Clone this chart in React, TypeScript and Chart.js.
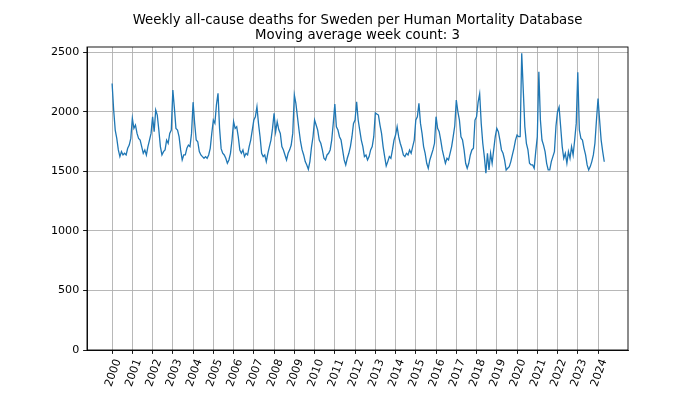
import { useEffect, useRef } from "react";
import { Chart, registerables } from "chart.js";

Chart.register(...registerables);

const titleLines = [
  "Weekly all-cause deaths for Sweden per Human Mortality Database",
  "Moving average week count: 3",
];

const firstYear = 2000;
const samplesPerYear = 13; // one value every 4 weeks
const yearTicks = [
  2000, 2001, 2002, 2003, 2004, 2005, 2006, 2007, 2008, 2009, 2010, 2011, 2012,
  2013, 2014, 2015, 2016, 2017, 2018, 2019, 2020, 2021, 2022, 2023, 2024,
];
const yTicks = [0, 500, 1000, 1500, 2000, 2500];

// 3-week moving average of weekly deaths, read every 4 weeks
const deaths2000to2004 = [
  2237, 2014, 1846, 1776, 1679, 1623, 1665, 1637, 1651, 1637, 1693, 1720, 1776,
  1944, 1860, 1888, 1818, 1776, 1762, 1707, 1651, 1679, 1637, 1707, 1762, 1818,
  1958, 1832, 2014, 1972, 1846, 1707, 1637, 1665, 1679, 1762, 1735, 1818, 1846,
  2181, 2028, 1860, 1846, 1790, 1679, 1595, 1637, 1637, 1693, 1720, 1707, 1818,
  2080, 1902, 1762, 1748, 1665, 1637, 1623, 1609, 1623, 1609, 1637, 1693, 1818,
];
const deaths2005to2009 = [
  1930, 1902, 2060, 2155, 1860, 1690, 1651, 1637, 1609, 1567, 1595, 1651, 1762,
  1916, 1860, 1874, 1790, 1679, 1651, 1679, 1623, 1651, 1637, 1707, 1762, 1846,
  1930, 1958, 2042, 1900, 1790, 1651, 1623, 1637, 1581, 1651, 1707, 1762, 1860,
  1986, 1830, 1916, 1850, 1818, 1707, 1679, 1637, 1595, 1651, 1680, 1720, 1820,
  2140, 2070, 1958, 1846, 1748, 1679, 1637, 1581, 1553, 1517, 1581, 1700, 1790,
];
const deaths2010to2014 = [
  1930, 1888, 1846, 1762, 1735, 1679, 1609, 1595, 1637, 1651, 1679, 1762, 1902,
  2064, 1874, 1846, 1790, 1762, 1679, 1595, 1553, 1609, 1651, 1707, 1790, 1902,
  1930, 2084, 1930, 1846, 1762, 1707, 1623, 1637, 1595, 1623, 1679, 1707, 1790,
  1990, 1980, 1972, 1888, 1818, 1707, 1623, 1545, 1581, 1623, 1609, 1679, 1762,
  1804, 1874, 1790, 1735, 1693, 1637, 1623, 1651, 1637, 1679, 1651, 1707, 1762,
];
const deaths2015to2019 = [
  1930, 1958, 2070, 1902, 1818, 1707, 1651, 1567, 1525, 1595, 1637, 1679, 1735,
  1958, 1860, 1832, 1762, 1679, 1623, 1567, 1609, 1595, 1651, 1707, 1790, 1880,
  2098, 2000, 1930, 1790, 1762, 1679, 1567, 1525, 1567, 1637, 1679, 1693, 1930,
  1958, 2080, 2150, 1902, 1735, 1623, 1483, 1651, 1511, 1651, 1567, 1679, 1790,
  1860, 1832, 1762, 1679, 1651, 1595, 1511, 1525, 1539, 1581, 1637, 1693, 1762,
];
const deaths2020to2024 = [
  1804, 1790, 1790, 2490, 2180, 1874, 1735, 1679, 1567, 1553, 1553, 1525, 1665,
  1790, 2335, 1930, 1762, 1720, 1665, 1567, 1511, 1511, 1581, 1623, 1665, 1880,
  2000, 2040, 1874, 1707, 1609, 1651, 1567, 1665, 1609, 1707, 1637, 1762, 1902,
  2330, 1846, 1776, 1762, 1693, 1637, 1553, 1511, 1539, 1581, 1637, 1735, 1930,
  2110, 1930, 1762, 1665, 1580,
];

const allDeaths = [
  ...deaths2000to2004,
  ...deaths2005to2009,
  ...deaths2010to2014,
  ...deaths2015to2019,
  ...deaths2020to2024,
];

const FONT = "'DejaVu Sans', 'Liberation Sans', sans-serif";

export default function App() {
  const canvasRef = useRef<HTMLCanvasElement | null>(null);

  useEffect(() => {
    const canvas = canvasRef.current;
    if (!canvas) return;

    const points = allDeaths.map((v, i) => ({
      x: firstYear + i / samplesPerYear,
      y: v,
    }));

    const framePlugin = {
      id: "frameAndTitle",
      afterDatasetsDraw(chart: any) {
        const { ctx, chartArea } = chart;
        ctx.save();
        ctx.strokeStyle = "#000";
        ctx.lineWidth = 0.9;
        ctx.strokeRect(
          chartArea.left,
          chartArea.top,
          chartArea.right - chartArea.left,
          chartArea.bottom - chartArea.top
        );
        ctx.restore();
      },
      afterDraw(chart: any) {
        const { ctx, chartArea } = chart;
        ctx.save();
        ctx.fillStyle = "#000";
        ctx.font = `13.3px ${FONT}`;
        ctx.textAlign = "center";
        ctx.textBaseline = "middle";
        const cx = (chartArea.left + chartArea.right) / 2;
        ctx.fillText(titleLines[0], cx, 20.5);
        ctx.fillText(titleLines[1], cx, 36);
        ctx.restore();
      },
    };

    const chart = new Chart(canvas, {
      type: "line",
      data: {
        datasets: [
          {
            data: points,
            borderColor: "#1f77b4",
            borderWidth: 1.3,
            pointRadius: 0,
            tension: 0,
            fill: false,
          },
        ],
      },
      options: {
        responsive: false,
        animation: false,
        parsing: true,
        layout: { padding: { top: 47, right: 72, bottom: 0, left: 0 } },
        plugins: {
          legend: { display: false },
          title: { display: false },
          tooltip: { enabled: false },
        },
        scales: {
          x: {
            type: "linear",
            min: 1998.76,
            max: 2025.48,
            afterFit: (scale: any) => {
              scale.height = 44;
            },
            afterBuildTicks: (scale: any) => {
              scale.ticks = yearTicks.map((v) => ({ value: v }));
            },
            grid: {
              color: "#b0b0b0",
              lineWidth: 0.9,
              tickColor: "#000",
              tickLength: 3.9,
              tickWidth: 0.9,
            },
            border: { display: true, color: "#000", width: 0.9 },
            ticks: {
              color: "#000",
              font: { family: FONT, size: 11.1 },
              minRotation: 70,
              maxRotation: 70,
              autoSkip: false,
              padding: 3.5,
              labelOffset: 6,
              callback: (v: any) => String(v),
            },
          },
          y: {
            type: "linear",
            min: 0,
            max: 2543,
            afterFit: (scale: any) => {
              scale.width = 87;
            },
            afterBuildTicks: (scale: any) => {
              scale.ticks = yTicks.map((v) => ({ value: v }));
            },
            grid: {
              color: "#b0b0b0",
              lineWidth: 0.9,
              tickColor: "#000",
              tickLength: 3.9,
              tickWidth: 0.9,
            },
            border: { display: true, color: "#000", width: 0.9 },
            ticks: {
              color: "#000",
              font: { family: FONT, size: 11.1 },
              padding: 3.9,
              callback: (v: any) => String(v),
            },
          },
        },
      },
      plugins: [framePlugin],
    });

    return () => chart.destroy();
  }, []);

  return (
    <div style={{ position: "absolute", left: 0, top: 0, width: 700, height: 394, background: "#fff" }}>
      <canvas ref={canvasRef} width={700} height={394} />
    </div>
  );
}
